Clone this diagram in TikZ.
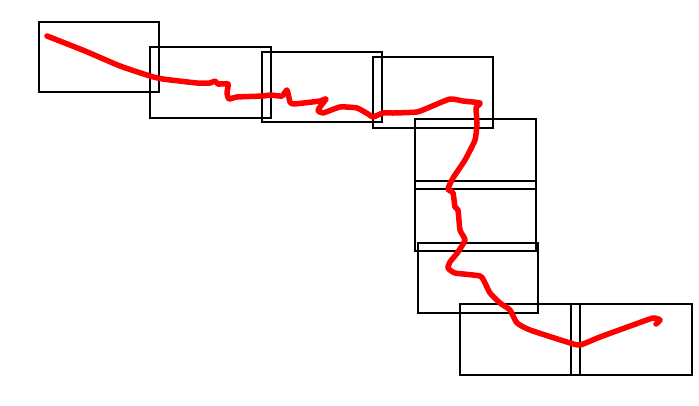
\documentclass[tikz,border=0pt]{standalone}
\begin{document}
\begin{tikzpicture}[x=1pt,y=-1pt,
  frame/.style={draw=black,line width=1.5pt},
  track/.style={draw=red,line width=5.5pt,line join=round,line cap=round}]
\useasboundingbox (0,0) rectangle (699,405);
\draw[frame] (39,22) rectangle (159,92);
\draw[frame] (150,47) rectangle (271,118);
\draw[frame] (262,52) rectangle (382,122);
\draw[frame] (373,57) rectangle (493,128);
\draw[frame] (415,119) rectangle (536,189);
\draw[frame] (415,181) rectangle (536,251);
\draw[frame] (418,243) rectangle (538,313);
\draw[frame] (460,304) rectangle (580,375);
\draw[frame] (571,304) rectangle (692,375);
\draw[track] plot[smooth,tension=0.3] coordinates {
(47,36) (85,51) (120,66) (150,76) (163,79) (197,83) (210,83) (215,81) (218,84) (228,84) (227,93) (229,99) (237,97) (263,96) (270,95) (282,96) (287,90) (290,102) (294,104) (320,101) (326,99) (318,110) (323,113) (340,107) (357,108) (368,114) (373,117) (383,113) (393,113) (417,112) (430,107) (450,99) (463,101) (480,103) (476,108) (477,123) (475,140) (465,160) (453,178) (448,189) (453,193) (455,207) (458,210) (460,230) (465,240) (458,252) (450,262) (448,268) (455,273) (480,276) (485,283) (490,293) (500,303) (510,310) (517,323) (530,330) (567,342) (580,345) (600,337) (633,325) (653,318) (660,320) (656,324)};
\end{tikzpicture}
\end{document}
